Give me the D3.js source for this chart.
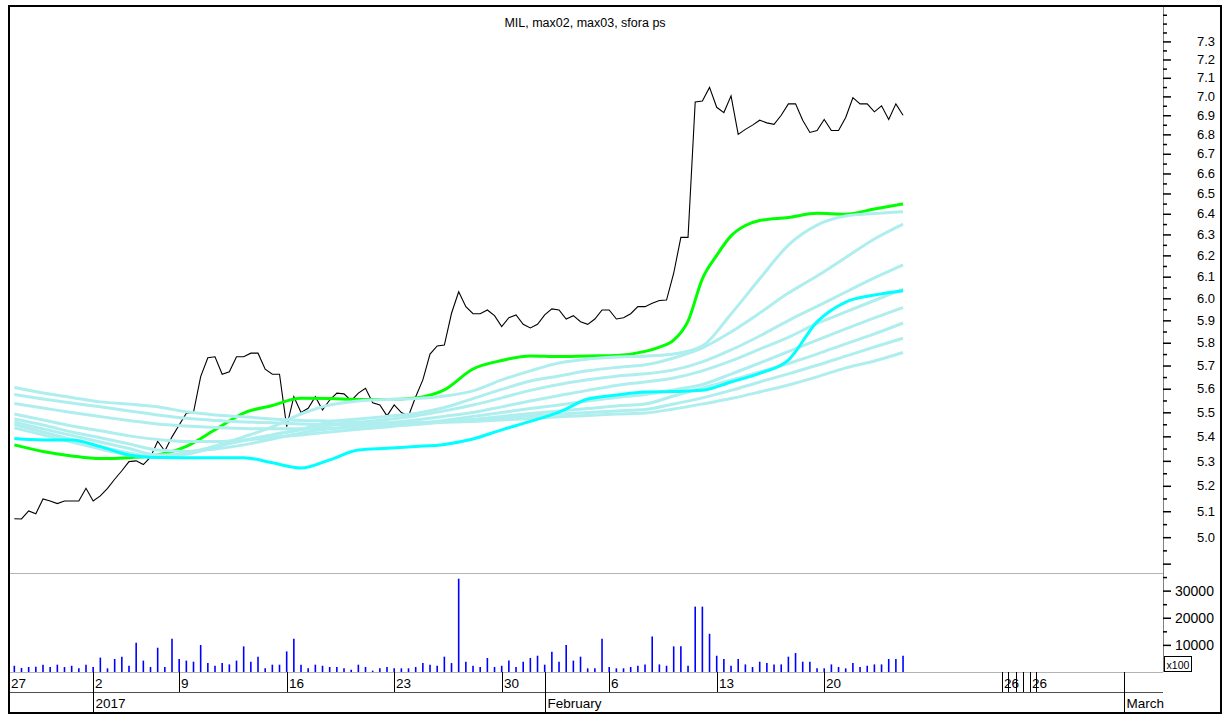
<!DOCTYPE html>
<html>
<head>
<meta charset="utf-8">
<script src="https://cdn.jsdelivr.net/npm/d3@7"></script>
<style>
  body { margin: 0; background: #fff; }
  svg { display: block; font-family: "Liberation Sans", Arial, sans-serif; }
</style>
</head>
<body>
<svg width="1224" height="715"></svg>
<script>
// price per bar (3 bars per trading day)
const price = [
  5.071, 5.07, 5.101, 5.09, 5.148, 5.14, 5.13, 5.14, 5.14, 5.14,
  5.19, 5.14, 5.16, 5.19, 5.226, 5.26, 5.297, 5.30, 5.285, 5.315,
  5.38, 5.34, 5.398, 5.447, 5.496, 5.50, 5.652, 5.734, 5.738, 5.662,
  5.673, 5.738, 5.738, 5.754, 5.754, 5.684, 5.662, 5.662, 5.44, 5.566,
  5.499, 5.517, 5.566, 5.51, 5.552, 5.581, 5.578, 5.549, 5.581, 5.602,
  5.54, 5.531, 5.485, 5.531, 5.499, 5.485, 5.566, 5.638, 5.75, 5.786,
  5.79, 5.932, 6.03, 5.962, 5.93, 5.93, 5.947, 5.921, 5.872, 5.912,
  5.924, 5.882, 5.866, 5.882, 5.925, 5.952, 5.947, 5.906, 5.921, 5.894,
  5.882, 5.906, 5.947, 5.947, 5.906, 5.912, 5.93, 5.962, 5.962, 5.977,
  5.99, 5.992, 6.116, 6.286, 6.286, 6.97, 6.975, 7.048, 6.942, 6.914,
  7.003, 6.80, 6.826, 6.848, 6.874, 6.86, 6.852, 6.90, 6.96, 6.96,
  6.874, 6.81, 6.82, 6.878, 6.82, 6.82, 6.888, 6.993, 6.96, 6.96,
  6.918, 6.95, 6.878, 6.96, 6.90
];

const volume = [
  2300, 1500, 1850, 1950, 2700, 1850, 2700, 1850, 2300, 1350,
  2700, 1850, 5300, 1350, 4800, 5650, 2300, 10800, 4200, 1850,
  8950, 1850, 12300, 4800, 4200, 3800, 9950, 3300, 2300, 3300,
  2800, 4200, 9450, 3800, 5650, 1350, 2700, 2700, 7600, 12300,
  2700, 1350, 2700, 2300, 1850, 1850, 1350, 850, 2700, 1850,
  500, 1350, 1850, 1350, 1350, 1350, 1850, 3300, 2700, 2300,
  5650, 3300, 34400, 3800, 2300, 1850, 5150, 1850, 2300, 4200,
  1850, 3800, 5150, 6000, 2700, 7500, 3800, 9950, 4200, 5650,
  1350, 1350, 12300, 1850, 1350, 1350, 1850, 2300, 2800, 13100,
  2800, 2300, 9450, 9450, 2300, 24100, 24100, 14100, 6000, 4800,
  2300, 4800, 2800, 1850, 3800, 3300, 2800, 2800, 5650, 7000,
  3800, 3800, 1350, 1350, 2800, 1850, 1350, 3300, 1850, 2300,
  2800, 2800, 4800, 4800, 6000
];

// averages, read every 4th bar
const ma_index = [0, 4, 8, 12, 16, 20, 24, 28, 32, 36, 40, 44, 48, 52, 56, 60,
  64, 68, 72, 76, 80, 84, 88, 92, 96, 100, 104, 108, 112, 116, 120, 124];

// max02 read closer where it turns up
const max02_index = [0, 4, 8, 12, 16, 20, 24, 28, 32, 36, 40, 44, 48, 52, 56, 60,
  64, 68, 72, 76, 80, 84, 88, 90, 92, 94, 96, 98, 100, 102, 104, 108, 112, 116, 120, 124];
const max02 = [5.365, 5.338, 5.32, 5.309, 5.313, 5.324, 5.359, 5.427, 5.497, 5.529, 5.559,
  5.558, 5.554, 5.554, 5.561, 5.595, 5.685, 5.722, 5.742, 5.739, 5.742, 5.744, 5.762,
  5.781, 5.812, 5.897, 6.09, 6.20, 6.293, 6.343, 6.367, 6.382, 6.402, 6.398, 6.423, 6.448];

const max03 = [5.391, 5.385, 5.385, 5.358, 5.324, 5.314, 5.313, 5.313, 5.313, 5.292, 5.271,
  5.304, 5.344, 5.351, 5.358, 5.367, 5.389, 5.427, 5.462, 5.501, 5.556, 5.573, 5.586,
  5.588, 5.593, 5.629, 5.666, 5.724, 5.893, 5.983, 6.015, 6.035];

const ps_1 = [5.435, 5.406, 5.377, 5.348, 5.324, 5.314, 5.328, 5.361, 5.398, 5.439, 5.493,
  5.531, 5.548, 5.554, 5.558, 5.569, 5.591, 5.638, 5.677, 5.711, 5.728, 5.737, 5.741,
  5.75, 5.786, 5.929, 6.09, 6.249, 6.345, 6.389, 6.401, 6.41];
const ps_2 = [5.449, 5.418, 5.387, 5.357, 5.332, 5.316, 5.332, 5.359, 5.383, 5.406, 5.429,
  5.46, 5.472, 5.483, 5.495, 5.52, 5.558, 5.597, 5.633, 5.655, 5.677, 5.692, 5.703,
  5.733, 5.777, 5.848, 5.933, 6.024, 6.103, 6.19, 6.278, 6.35];
const ps_3 = [5.46, 5.431, 5.404, 5.377, 5.35, 5.324, 5.328, 5.357, 5.383, 5.406, 5.427,
  5.445, 5.458, 5.47, 5.485, 5.506, 5.531, 5.561, 5.593, 5.618, 5.638, 5.654, 5.664,
  5.681, 5.716, 5.768, 5.83, 5.899, 5.963, 6.029, 6.094, 6.155];
const ps_4 = [5.472, 5.447, 5.418, 5.394, 5.369, 5.344, 5.338, 5.348, 5.365, 5.389, 5.414,
  5.431, 5.443, 5.456, 5.468, 5.483, 5.499, 5.523, 5.548, 5.571, 5.593, 5.614, 5.629,
  5.646, 5.677, 5.72, 5.772, 5.824, 5.886, 5.938, 5.99, 6.043];
const ps_5 = [5.493, 5.468, 5.443, 5.423, 5.402, 5.387, 5.379, 5.379, 5.385, 5.396, 5.406,
  5.418, 5.429, 5.439, 5.451, 5.466, 5.483, 5.499, 5.516, 5.531, 5.548, 5.563, 5.575,
  5.595, 5.618, 5.663, 5.711, 5.761, 5.812, 5.862, 5.911, 5.958];
const ps_6 = [5.537, 5.518, 5.499, 5.482, 5.466, 5.451, 5.443, 5.437, 5.433, 5.431, 5.431,
  5.433, 5.437, 5.443, 5.449, 5.46, 5.47, 5.483, 5.495, 5.506, 5.516, 5.527, 5.535,
  5.569, 5.603, 5.636, 5.672, 5.709, 5.75, 5.795, 5.839, 5.888];
const ps_7 = [5.575, 5.556, 5.539, 5.523, 5.506, 5.489, 5.475, 5.466, 5.46, 5.456, 5.451,
  5.449, 5.449, 5.451, 5.456, 5.462, 5.47, 5.477, 5.485, 5.493, 5.499, 5.506, 5.512,
  5.535, 5.561, 5.593, 5.629, 5.664, 5.701, 5.741, 5.781, 5.82];
const ps_8 = [5.605, 5.582, 5.563, 5.544, 5.535, 5.523, 5.502, 5.489, 5.481, 5.472, 5.466,
  5.464, 5.46, 5.456, 5.456, 5.458, 5.462, 5.468, 5.474, 5.481, 5.487, 5.493, 5.497,
  5.514, 5.535, 5.558, 5.586, 5.616, 5.651, 5.69, 5.72, 5.757];
const ps_lines = [ps_1, ps_2, ps_3, ps_4, ps_5, ps_6, ps_7, ps_8];

// axis ticks
const price_labels = [5.0, 5.1, 5.2, 5.3, 5.4, 5.5, 5.6, 5.7, 5.8, 5.9, 6.0, 6.1, 6.2,
  6.3, 6.4, 6.5, 6.6, 6.7, 6.8, 6.9, 7.0, 7.1, 7.2, 7.3];
const price_minor = [4.95, 5.05, 5.15, 5.25, 5.35, 5.45, 5.55, 5.65, 5.75, 5.85, 5.95,
  6.05, 6.15, 6.25, 6.35, 6.45, 6.55, 6.65, 6.75, 6.85, 6.95, 7.05, 7.15, 7.25, 7.35,
  7.4, 7.45];
const volume_labels = [10000, 20000, 30000];
const volume_minor = [15000, 25000, 35000];

const day_ticks = [
  { i: 11, label: "2" }, { i: 23, label: "9" }, { i: 38, label: "16" },
  { i: 53, label: "23" }, { i: 68, label: "30" }, { i: 83, label: "6" },
  { i: 98, label: "13" }, { i: 113, label: "20" },
  { i: 137.85, label: "26" }, { i: 138.6, label: "" }, { i: 139.7, label: "" },
  { i: 140.8, label: "" }, { i: 141.7, label: "26" }, { i: 142.6, label: "" }
];
const month_ticks = [
  { i: 11, label: "2017" }, { i: 74, label: "February" }, { i: 154.8, label: "March" }
];

const title = "MIL, max02, max03, sfora ps";

// layout
const left = 10, right = 1163;
const price_top = 6, price_bottom = 572.5;
const vol_top = 573, vol_bottom = 672;
const day_bottom = 692, month_bottom = 712;

const svg = d3.select("svg");

const x = d3.scaleLinear([-0.604, 160.27], [left, right]);
const y = d3.scaleLog([4.867, 7.5], [price_bottom, price_top]);
const vol_y = d3.scaleLinear([0, 36500], [vol_bottom, vol_top]);

svg.append("defs").append("clipPath")
  .attr("id", "plot-clip")
  .append("rect")
    .attr("x", left).attr("y", price_top)
    .attr("width", right - left).attr("height", price_bottom - price_top);

// panel separators
const hline = (yy, color) => svg.append("line")
  .attr("x1", left).attr("x2", right)
  .attr("y1", yy).attr("y2", yy)
  .attr("stroke", color).attr("stroke-width", 1);
hline(573.5, "#b4b4b4");
hline(672.5, "#b4b4b4");
hline(692.5, "#505050");

svg.append("text")
  .attr("x", 585).attr("y", 27)
  .attr("text-anchor", "middle")
  .attr("font-size", 12.5)
  .text(title);

// lines
const plot = svg.append("g").attr("clip-path", "url(#plot-clip)");

const price_line = d3.line()
  .x((d, i) => x(i))
  .y(d => y(d));
const ma_line = idx => d3.line()
  .x((d, k) => x(idx[k]))
  .y(d => y(d))
  .curve(d3.curveMonotoneX);

plot.append("path")
  .attr("fill", "none")
  .attr("stroke", "#000")
  .attr("stroke-width", 1.1)
  .attr("d", price_line(price));

plot.append("path")
  .attr("fill", "none")
  .attr("stroke", "#00ff00")
  .attr("stroke-width", 3)
  .attr("d", ma_line(max02_index)(max02));

plot.append("g")
  .selectAll("path")
  .data(ps_lines)
  .join("path")
    .attr("fill", "none")
    .attr("stroke", "#afeeee")
    .attr("stroke-width", 3)
    .attr("d", d => ma_line(ma_index)(d));

plot.append("path")
  .attr("fill", "none")
  .attr("stroke", "#00ffff")
  .attr("stroke-width", 3)
  .attr("d", ma_line(ma_index)(max03));

// volume bars
svg.append("g")
  .selectAll("line")
  .data(volume)
  .join("line")
    .attr("x1", (d, i) => x(i)).attr("x2", (d, i) => x(i))
    .attr("y1", vol_y(0)).attr("y2", d => vol_y(d))
    .attr("stroke", "#0000ff")
    .attr("stroke-width", 1.6);

// right axes
svg.append("line")
  .attr("x1", right + 0.5).attr("x2", right + 0.5)
  .attr("y1", price_top).attr("y2", vol_bottom)
  .attr("stroke", "#808080");

const style_axis = (g, size) => {
  g.select(".domain").remove();
  g.selectAll(".tick line").attr("stroke", "#000").attr("stroke-width", 1.5);
  g.selectAll(".tick text").attr("fill", "#000").attr("font-size", size)
    .attr("font-family", "Liberation Sans, Arial, sans-serif");
};

svg.append("g")
  .attr("transform", `translate(${right},0)`)
  .call(d3.axisRight(y).tickValues(price_labels).tickFormat(d3.format(".1f"))
    .tickSize(8).tickPadding(26))
  .call(g => style_axis(g, 13));
svg.append("g")
  .attr("transform", `translate(${right},0)`)
  .call(d3.axisRight(y).tickValues([4.9]).tickFormat("").tickSize(8))
  .call(g => style_axis(g, 13));
svg.append("g")
  .attr("transform", `translate(${right},0)`)
  .call(d3.axisRight(y).tickValues(price_minor).tickFormat("").tickSize(4))
  .call(g => style_axis(g, 13));

svg.append("g")
  .attr("transform", `translate(${right},0)`)
  .call(d3.axisRight(vol_y).tickValues(volume_labels).tickFormat(d3.format("d"))
    .tickSize(8).tickPadding(4))
  .call(g => style_axis(g, 14));
svg.append("g")
  .attr("transform", `translate(${right},0)`)
  .call(d3.axisRight(vol_y).tickValues(volume_minor).tickFormat("").tickSize(4))
  .call(g => style_axis(g, 14));

// x100 box
svg.append("rect")
  .attr("x", right + 1.5).attr("y", 656.5)
  .attr("width", 27).attr("height", 15)
  .attr("fill", "#fff").attr("stroke", "#000");
svg.append("text")
  .attr("x", right + 15).attr("y", 668.5)
  .attr("text-anchor", "middle")
  .attr("font-size", 10.5)
  .text("x100");

// time axis
const date_axis = svg.append("g");
date_axis.append("text")
  .attr("x", left + 1).attr("y", 688)
  .attr("font-size", 13.5)
  .text("27");
date_axis.selectAll(".day")
  .data(day_ticks)
  .join("g")
    .attr("class", "day")
    .attr("transform", d => `translate(${Math.round(x(d.i)) + 0.5},0)`)
    .call(g => g.append("line")
      .attr("y1", vol_bottom).attr("y2", day_bottom)
      .attr("stroke", "#000"))
    .call(g => g.append("text")
      .attr("x", 1.5).attr("y", 688)
      .attr("font-size", 13.5)
      .text(d => d.label));
date_axis.selectAll(".month")
  .data(month_ticks)
  .join("g")
    .attr("class", "month")
    .attr("transform", d => `translate(${Math.round(x(d.i)) + 0.5},0)`)
    .call(g => g.append("line")
      .attr("y1", vol_bottom).attr("y2", month_bottom)
      .attr("stroke", "#000"))
    .call(g => g.append("text")
      .attr("x", 2).attr("y", 708)
      .attr("font-size", 13.5)
      .text(d => d.label));

// outer frame
svg.append("rect")
  .attr("x", 9).attr("y", 6)
  .attr("width", 1212).attr("height", 707)
  .attr("fill", "none")
  .attr("stroke", "#000")
  .attr("stroke-width", 2);
</script>
</body>
</html>
